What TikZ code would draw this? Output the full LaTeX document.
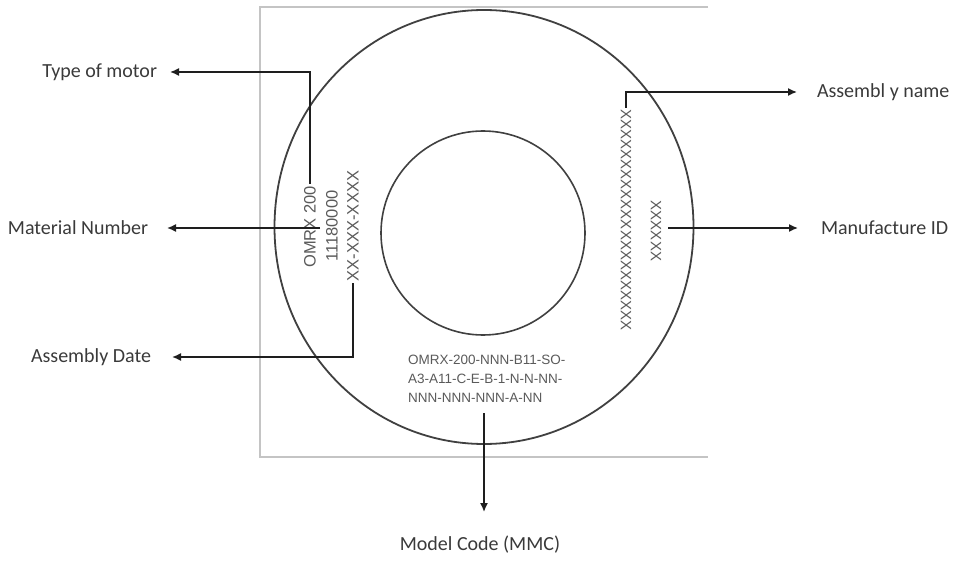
\documentclass[tikz,border=0pt]{standalone}
\usepackage{fontspec}
\setmainfont{Carlito}
\newfontfamily\arialfont{Liberation Sans}
\usetikzlibrary{arrows.meta,shapes.geometric}
\definecolor{labelgray}{HTML}{3A3A3A}
\definecolor{innergray}{HTML}{5A5A5A}
\definecolor{framegray}{HTML}{C4C4C4}
\definecolor{linedark}{HTML}{1E1E1E}
\begin{document}
\begin{tikzpicture}[x=1pt,y=-1pt,
  frameline/.style={draw=framegray,line width=1.3pt},
  ring/.style={draw=linedark!85,line width=1.8pt},
  conn/.style={draw=linedark,line width=1.5pt,-{Latex[length=9pt,width=8pt]}},
  lbl/.style={inner sep=0pt,text=labelgray,font=\fontsize{20}{24}\selectfont},
  lblL/.style={lbl,anchor=east,outer xsep=16pt},
  lblR/.style={lbl,anchor=west,outer xsep=20pt},
  vtext/.style={inner sep=2pt,text=innergray,font=\arialfont\fontsize{16.5}{19}\selectfont},
  xtext/.style={inner sep=2pt,text=innergray,font=\arialfont\fontsize{15}{18}\selectfont}
]
\useasboundingbox (0,0) rectangle (955,561);
% frame
\draw[frameline] (708,7) -- (260,7) -- (260,457) -- (708,457);
% disc
\node[ring,ellipse,minimum width=419pt,minimum height=434pt,inner sep=0pt] (outer) at (484,227) {};
\node[ring,circle,minimum size=204pt,inner sep=0pt,line width=1.6pt] (inner) at (483,233) {};
% left vertical texts
\node[vtext,rotate=90] (t1) at (310,227) {OMRX 200};
\node[vtext,rotate=90] (t2) at (332,226) {11180000};
\node[vtext,rotate=90] (t3) at (353,226) {XX-XXX-XXXX};
% right vertical texts
\node[xtext,rotate=-90] (x1) at (626,220) {XXXXXXXXXXXXXXXXXXXXXX};
\node[xtext,rotate=-90] (x2) at (656,231) {XXXXXX};
% center code text
\node[inner sep=0pt,anchor=west,align=left,text=innergray,font=\arialfont\fontsize{13.5}{19}\selectfont] (code) at (408,379)
  {OMRX-200-NNN-B11-SO-\\A3-A11-C-E-B-1-N-N-NN-\\NNN-NNN-NNN-A-NN};
% labels (anchored at the arrow tips)
\node[lblL,outer xsep=13pt] (tm) at (170,72) {Type of motor};
\node[lblL,outer xsep=19pt] (mn) at (167,228) {Material Number};
\node[lblL,outer xsep=21pt] (ad) at (172,357) {Assembly Date};
\node[lblR] (an) at (797,92) {Assembl y name};
\node[lblR,outer xsep=23pt] (mid) at (798,228) {Manufacture ID};
\node[lbl,anchor=north,outer ysep=24pt] (mc) at (480,512) {Model Code (MMC)};
% connector free ends
\coordinate (mnstart) at (320,228);
\coordinate (midstart) at (668,228);
\coordinate (mcstart) at (484,413);
% connectors
\draw[conn] (t1.east) |- (tm.east);
\draw[conn] (mnstart) -- (mn.east);
\draw[conn] (t3.west) |- (ad.east);
\draw[conn] (x1.west) |- (an.west);
\draw[conn] (midstart) -- (mid.west);
\draw[conn] (mcstart) -- (mcstart |- mc.north);
\end{tikzpicture}
\end{document}
